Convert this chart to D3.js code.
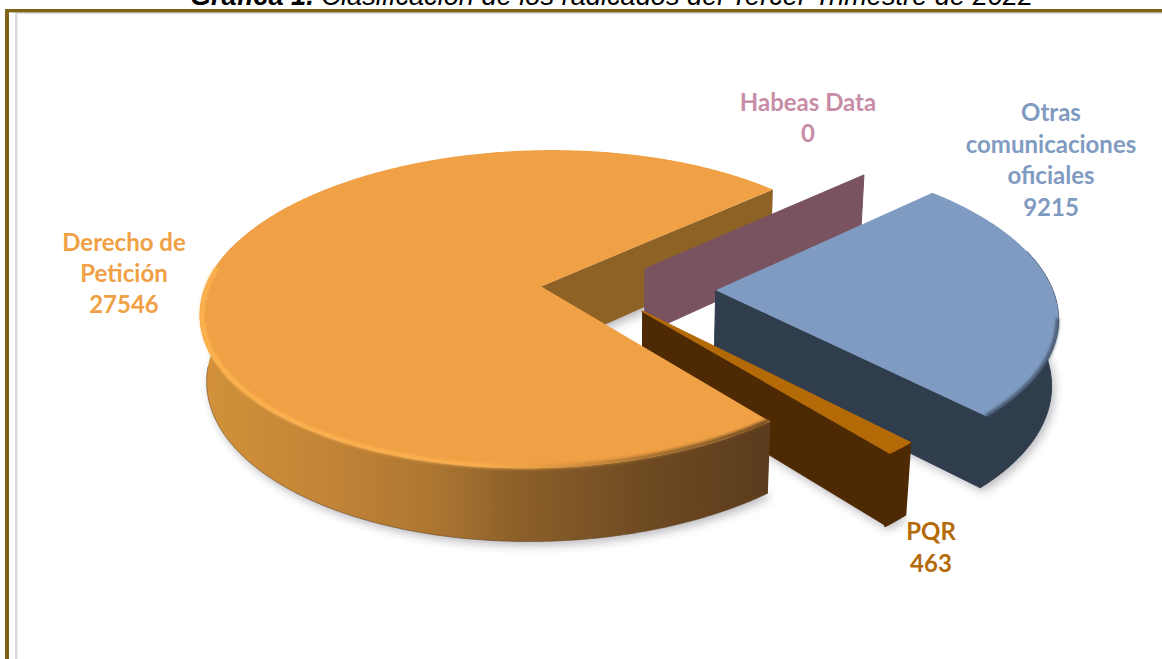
<!DOCTYPE html>
<html lang="es">
<head>
<meta charset="utf-8">
<script src="https://d3js.org/d3.v7.min.js"></script>
<style>
html,body{margin:0;padding:0;background:#fff;overflow:hidden}
svg{display:block}
</style>
</head>
<body>
<script>
// ---- data ----
const categories = ["Otras comunicaciones oficiales", "PQR", "Derecho de Petición", "Habeas Data"];
const values = [9215, 463, 27546, 0];
const labelLines = [
  ["Otras", "comunicaciones", "oficiales", "9215"],
  ["PQR", "463"],
  ["Derecho de", "Petición", "27546"],
  ["Habeas Data", "0"]
];
const titleBold = "Gráfica 1.";
const titleRest = " Clasificación de los radicados del Tercer Trimestre de 2022";

// ---- styles and layout ----
const W = 1162, H = 659;
const topColors  = ["#7F9BC1", "#B56A08", "#F0A045", "#7A5360"];
const wallColors = ["#303D4D", "#4E2A04", "#8E6225", "#7A5360"];
const labelColors = ["#7F9BC1", "#B56A08", "#F0A045", "#C78DA6"];
const offsets = [[0.26, 0.005], [0.041, 0.135], [-0.258, -0.02], [0.051, -0.135]]; // explosion in plane units
const labelPos = [[1051, 121, 31.6], [931, 540, 32], [124, 251, 31], [808, 111, 31]];

const Cx = 628, Cy = 289.5, Rx = 337, Ry = 156.7, K = 0.1437, Dz = 67, Mz = 0.016;
const deg = Math.PI / 180;
const start = 47 * deg;

const arcs = d3.pie().sort(null).value(d => d).startAngle(start).endAngle(start + 2 * Math.PI)(values);

const svg = d3.select("body").append("svg").attr("width", W).attr("height", H)
  .attr("viewBox", `0 0 ${W} ${H}`);
const defs = svg.append("defs");

const blur = (id, s) => defs.append("filter").attr("id", id)
  .attr("x", "-20%").attr("y", "-20%").attr("width", "140%").attr("height", "140%")
  .append("feGaussianBlur").attr("stdDeviation", s);
blur("shadowBlur", 5);
blur("rimBlur", 1.4);

function hGrad(id, x1, x2, stops) {
  const g = defs.append("linearGradient").attr("id", id).attr("gradientUnits", "userSpaceOnUse")
    .attr("x1", x1).attr("x2", x2).attr("y1", 0).attr("y2", 0);
  stops.forEach(([o, c]) => g.append("stop").attr("offset", o).attr("stop-color", c));
}
hGrad("bandD", 199, 775, [[0, "#D3923A"], [0.25, "#C08236"], [0.4, "#AD7732"], [0.56, "#8B5F29"], [0.78, "#6E4A22"], [1, "#5A3B1C"]]);
hGrad("rimD", 199, 775, [[0, "#FFB650"], [0.5, "#FBB04D"], [0.62, "#DD963F"], [0.82, "#8A6028"], [1, "#5E3E1C"]]);

const line = d3.line();
function pt(i, theta, r, z) {
  const X = offsets[i][0] + r * Math.sin(theta);
  const Y = offsets[i][1] - r * Math.cos(theta);
  const w = 1 - K * Y + Mz * z;
  return [Cx + Rx * X / w, Cy + Ry * Y / w + Dz * z / w];
}
const steps = (a, b) => {
  const n = Math.max(1, Math.ceil(Math.abs(b - a) / (0.5 * deg)));
  return d3.range(n + 1).map(j => a + (b - a) * j / n);
};
const rimPts = (i, a, b, r, z) => steps(a, b).map(t => pt(i, t, r, z));

function topFace(i) {
  const a = arcs[i];
  return line([pt(i, 0, 0, 0), ...rimPts(i, a.startAngle, a.endAngle, 1, 0)]) + "Z";
}
function wall(i, theta) {
  return line([pt(i, 0, 0, 0), pt(i, theta, 1, 0), pt(i, theta, 1, 1), pt(i, 0, 0, 1)]) + "Z";
}
// part of the rim turned towards the viewer
function visibleRange(i) {
  let a = arcs[i].startAngle, b = arcs[i].endAngle;
  const full = 2 * Math.PI;
  while (a >= full) { a -= full; b -= full; }
  return [Math.max(a, 75 * deg), Math.min(b, 285 * deg)];
}
function band(i) {
  const [a, b] = visibleRange(i);
  return line([...rimPts(i, a, b, 1, 0), ...rimPts(i, b, a, 1, 1)]) + "Z";
}
function bottomFace(i) {
  const a = arcs[i];
  return line([pt(i, 0, 0, 1), ...rimPts(i, a.startAngle, a.endAngle, 1, 1)]) + "Z";
}

// frame
svg.append("rect").attr("x", 15).attr("y", 13).attr("width", 2.5).attr("height", H - 13).attr("fill", "#D9D9D9");
svg.append("rect").attr("x", 15).attr("y", 12).attr("width", W - 15).attr("height", 2).attr("fill", "#DEDEDE");
svg.append("rect").attr("x", 5).attr("y", 9).attr("width", 4).attr("height", H - 9).attr("fill", "#7F6415");
svg.append("rect").attr("x", 5).attr("y", 9).attr("width", W - 5).attr("height", 3.4).attr("fill", "#7F6415");

// title (cut by the top of the page, as in the source)
const title = svg.append("text").attr("x", 611.5).attr("y", 5).attr("text-anchor", "middle")
  .attr("font-family", "'Liberation Sans', Arial, sans-serif").attr("font-size", 27.2)
  .attr("font-style", "italic").attr("fill", "#000");
title.append("tspan").attr("font-weight", "bold").text(titleBold);
title.append("tspan").attr("xml:space", "preserve").text(titleRest);

// shadows
svg.append("g").attr("filter", "url(#shadowBlur)").attr("transform", "translate(3,4)").attr("opacity", 0.3)
  .selectAll("path").data([0, 1, 2]).join("path").attr("d", bottomFace).attr("fill", "#223");

const iO = 0, iP = 1, iD = 2, iH = 3;
const pie3d = svg.append("g").attr("stroke-linejoin", "round");

// back wall of the large slice
pie3d.append("path").attr("d", wall(iD, arcs[iD].endAngle)).attr("fill", wallColors[iD]);

// zero-value slice shows only its wall
pie3d.append("path").attr("d", wall(iH, arcs[iH].startAngle)).attr("fill", wallColors[iH])
  .attr("stroke", wallColors[iH]).attr("stroke-width", 1);

// Otras
pie3d.append("path").attr("d", band(iO)).attr("fill", wallColors[iO])
  .attr("stroke", wallColors[iO]).attr("stroke-width", 1);
pie3d.append("path").attr("d", wall(iO, arcs[iO].endAngle)).attr("fill", wallColors[iO])
  .attr("stroke", wallColors[iO]).attr("stroke-width", 1);
pie3d.append("path").attr("d", topFace(iO)).attr("fill", topColors[iO]);
{
  const [a, b] = visibleRange(iO);
  pie3d.append("path").attr("d", line(rimPts(iO, a + 25 * deg, b, 0.997, 0))).attr("fill", "none")
    .attr("stroke", "#3A4C60").attr("stroke-width", 3).attr("filter", "url(#rimBlur)");
}

// PQR
pie3d.append("path").attr("d", band(iP)).attr("fill", wallColors[iP])
  .attr("stroke", wallColors[iP]).attr("stroke-width", 2.5);
pie3d.append("path").attr("d", wall(iP, arcs[iP].endAngle)).attr("fill", wallColors[iP]);
pie3d.append("path").attr("d", topFace(iP)).attr("fill", topColors[iP])
  .attr("stroke", topColors[iP]).attr("stroke-width", 1.5);

// Derecho de Petición, in front of everything
pie3d.append("path").attr("d", band(iD)).attr("fill", "url(#bandD)");
{
  const [a, b] = visibleRange(iD);
  pie3d.append("path").attr("d", line(rimPts(iD, a, b - 20 * deg, 1, 1))).attr("fill", "none")
    .attr("stroke", "#5E3E1C").attr("stroke-opacity", 0.55).attr("stroke-width", 1);
}
pie3d.append("path").attr("d", topFace(iD)).attr("fill", topColors[iD]);
{
  const [a, b] = visibleRange(iD);
  pie3d.append("path").attr("d", line(rimPts(iD, a, b - 8 * deg, 0.993, 0))).attr("fill", "none")
    .attr("stroke", "url(#rimD)").attr("stroke-width", 4).attr("filter", "url(#rimBlur)");
}

// labels
const lab = svg.append("g").attr("font-family", "Lato, 'Open Sans', sans-serif")
  .attr("font-weight", "bold").attr("font-size", 24).attr("text-anchor", "middle");
labelLines.forEach((ls, i) => {
  const [x, y, dy] = labelPos[i];
  lab.selectAll(null).data(ls).join("text")
    .attr("x", x).attr("y", (d, j) => y + j * dy).attr("fill", labelColors[i]).text(d => d);
});
</script>
</body>
</html>
